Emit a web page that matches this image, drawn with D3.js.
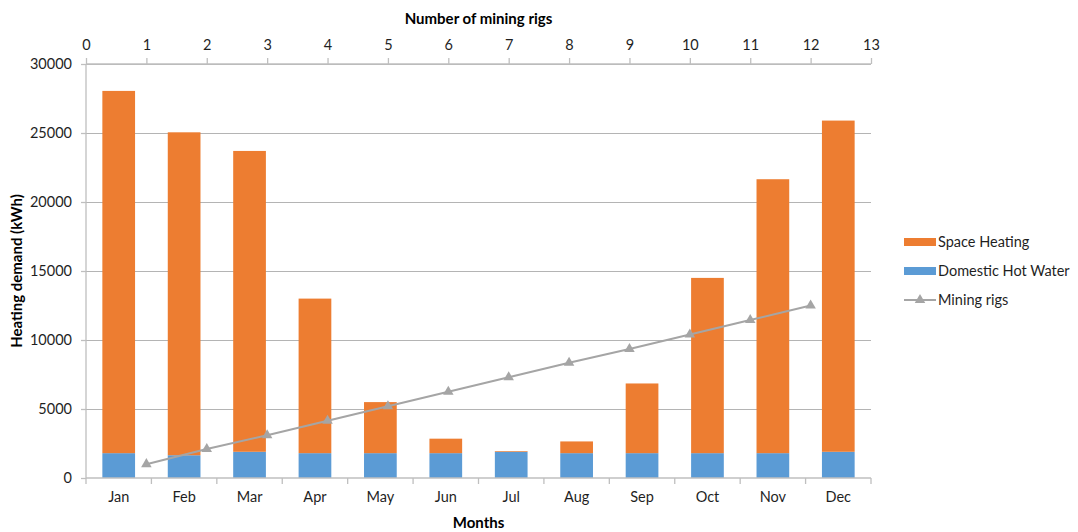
<!DOCTYPE html>
<html>
<head>
<meta charset="utf-8">
<script src="https://cdn.jsdelivr.net/npm/d3@7"></script>
<style>
  html, body { margin: 0; padding: 0; background: #fff; }
  svg { display: block; font-family: Lato, "Open Sans", sans-serif; }
</style>
</head>
<body>
<svg id="chart" width="1078" height="532"></svg>
<script>
// Monthly heating demand (kWh), stacked: hot water at the bottom, space heating on top
const months = ["Jan", "Feb", "Mar", "Apr", "May", "Jun", "Jul", "Aug", "Sep", "Oct", "Nov", "Dec"];
const domesticHotWater = [1800, 1650, 1900, 1800, 1800, 1800, 1900, 1800, 1800, 1800, 1800, 1900];
const spaceHeating = [26250, 23400, 21800, 11200, 3700, 1050, 50, 850, 5050, 12700, 19850, 24000];
// Mining rigs line: rig count (top axis) vs heat supplied (left axis)
const rigCounts = [1, 2, 3, 4, 5, 6, 7, 8, 9, 10, 11, 12];
const rigHeat = [1000, 2100, 3100, 4150, 5200, 6250, 7300, 8350, 9350, 10400, 11450, 12500];
const yTicks = [0, 5000, 10000, 15000, 20000, 25000, 30000];
const topTicks = [0, 1, 2, 3, 4, 5, 6, 7, 8, 9, 10, 11, 12, 13];

const colors = { space: "#ED7D31", water: "#5B9BD5", rigs: "#A5A5A5" };
const axisColor = "#bfbfbf";
const gridColor = "#b4b4b4";
const textColor = "#1f1f1f";
const labelSize = 14.5;
const titleSize = 15;

const svg = d3.select("#chart");
const plot = { left: 86, right: 871, top: 64, bottom: 478 };

const y = d3.scaleLinear().domain([0, 30000]).range([plot.bottom, plot.top]);
const xBand = d3.scaleBand().domain(months).range([plot.left, plot.right])
  .paddingInner(0.5).paddingOuter(0.25);
const xTop = d3.scaleLinear().domain([0, 13]).range([plot.left, plot.right]);

// Horizontal gridlines
svg.append("g").selectAll("line").data(yTicks.filter(d => d > 0)).join("line")
  .attr("x1", plot.left).attr("x2", plot.right)
  .attr("y1", d => y(d)).attr("y2", d => y(d))
  .attr("stroke", gridColor).attr("stroke-width", 1).attr("shape-rendering", "crispEdges");

// Stacked bars
const stackData = months.map((m, i) => ({ month: m, water: domesticHotWater[i], space: spaceHeating[i] }));
const series = d3.stack().keys(["water", "space"])(stackData);
svg.append("g").selectAll("g").data(series).join("g")
  .attr("fill", d => colors[d.key])
  .selectAll("rect").data(d => d).join("rect")
  .attr("x", d => xBand(d.data.month))
  .attr("width", xBand.bandwidth())
  .attr("y", d => y(d[1]))
  .attr("height", d => y(d[0]) - y(d[1]));

// Left axis
const leftAxis = svg.append("g").attr("transform", `translate(${plot.left},0)`)
  .call(d3.axisLeft(y).tickValues(yTicks).tickSize(5).tickPadding(9).tickFormat(d3.format("d")));
// Top axis (number of rigs)
const topAxis = svg.append("g").attr("transform", `translate(0,${plot.top})`)
  .call(d3.axisTop(xTop).tickValues(topTicks).tickSize(6).tickPadding(8).tickFormat(d3.format("d")));
// Bottom axis: labels centred on bands, ticks on band boundaries
const bottomAxis = svg.append("g").attr("transform", `translate(0,${plot.bottom})`)
  .call(d3.axisBottom(xBand).tickSize(0).tickPadding(14));
const step = xBand.step();
const boundaries = d3.range(months.length + 1).map(i => plot.left + i * step);
bottomAxis.selectAll("line.boundary").data(boundaries).join("line")
  .attr("class", "boundary")
  .attr("x1", d => d).attr("x2", d => d).attr("y1", 0).attr("y2", 6);

[leftAxis, topAxis, bottomAxis].forEach(g => {
  g.selectAll("path.domain").attr("stroke", axisColor).attr("stroke-width", 1.3);
  g.selectAll("line").attr("stroke", axisColor).attr("stroke-width", 1.3);
  g.selectAll("text").attr("fill", textColor).style("font-size", labelSize + "px")
    .style("font-family", "Lato, 'Open Sans', sans-serif");
});
leftAxis.select("path.domain").attr("d", `M0,${plot.top}V${plot.bottom}`);
bottomAxis.select("path.domain").attr("d", `M${plot.left},0H${plot.right}`);
topAxis.select("path.domain").attr("d", `M${plot.left},0H${plot.right}`);

// Mining rigs line with triangle markers
const line = d3.line().x((d, i) => xTop(rigCounts[i])).y(d => y(d));
svg.append("path").datum(rigHeat)
  .attr("fill", "none").attr("stroke", colors.rigs).attr("stroke-width", 2)
  .attr("d", line);
const tri = d3.symbol().type(d3.symbolTriangle).size(48);
svg.append("g").selectAll("path").data(rigHeat).join("path")
  .attr("transform", (d, i) => `translate(${xTop(rigCounts[i])},${y(d)})`)
  .attr("d", tri).attr("fill", colors.rigs);

// Axis titles
svg.append("text").attr("x", (plot.left + plot.right) / 2).attr("y", 24)
  .attr("text-anchor", "middle").attr("font-weight", "bold").attr("font-size", titleSize)
  .attr("fill", "#000").text("Number of mining rigs");
svg.append("text").attr("x", (plot.left + plot.right) / 2).attr("y", 528)
  .attr("text-anchor", "middle").attr("font-weight", "bold").attr("font-size", titleSize)
  .attr("fill", "#000").text("Months");
svg.append("text")
  .attr("transform", `translate(22,${(plot.top + plot.bottom) / 2}) rotate(-90)`)
  .attr("text-anchor", "middle").attr("font-weight", "bold").attr("font-size", titleSize)
  .attr("fill", "#000").text("Heating demand (kWh)");

// Legend
const legendItems = [
  { label: "Space Heating", type: "bar", color: colors.space },
  { label: "Domestic Hot Water", type: "bar", color: colors.water },
  { label: "Mining rigs", type: "line", color: colors.rigs }
];
const legend = svg.append("g").attr("transform", "translate(904,242)");
const item = legend.selectAll("g").data(legendItems).join("g")
  .attr("transform", (d, i) => `translate(0,${i * 29})`);
item.filter(d => d.type === "bar").append("rect")
  .attr("x", 0).attr("y", -4).attr("width", 32).attr("height", 8).attr("fill", d => d.color);
item.filter(d => d.type === "line").append("line")
  .attr("x1", 0).attr("x2", 32).attr("y1", 0).attr("y2", 0)
  .attr("stroke", d => d.color).attr("stroke-width", 2);
item.filter(d => d.type === "line").append("path")
  .attr("transform", "translate(16,0)").attr("d", tri).attr("fill", d => d.color);
item.append("text").attr("x", 34).attr("y", 5)
  .attr("font-size", labelSize).attr("fill", textColor).text(d => d.label);
</script>
</body>
</html>
